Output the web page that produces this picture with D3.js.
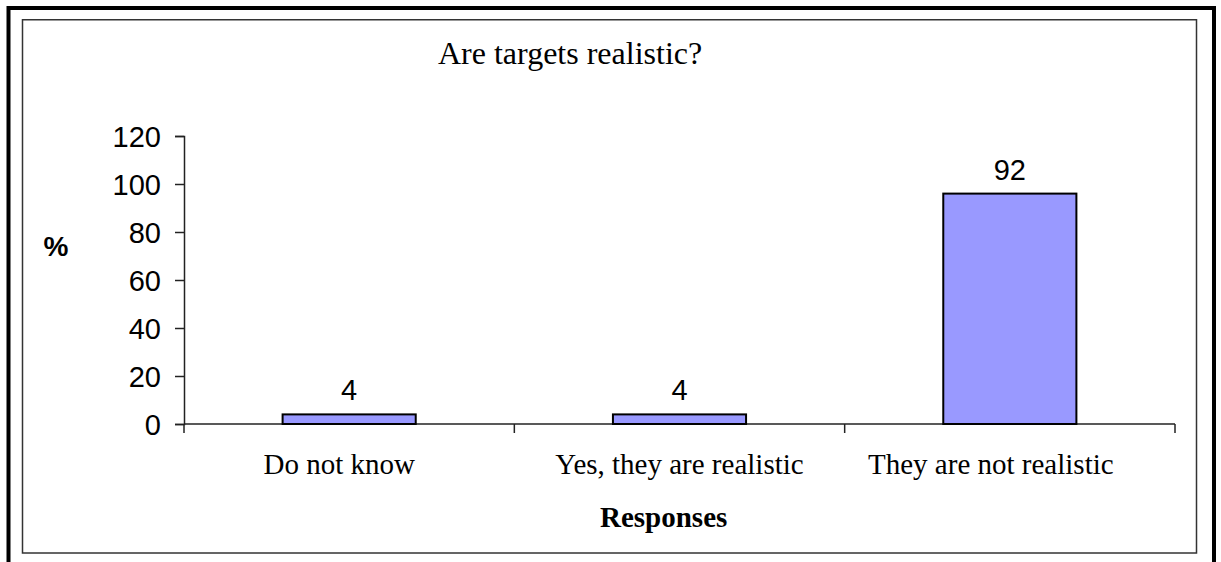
<!DOCTYPE html>
<html>
<head>
<meta charset="utf-8">
<script src="https://cdn.jsdelivr.net/npm/d3@7"></script>
<style>
  html, body { margin: 0; padding: 0; background: #fff; }
  svg { display: block; }
</style>
</head>
<body>
<script>
// ---- data ----
const categories = ["Do not know", "Yes, they are realistic", "They are not realistic"];
const barValues = [4, 4, 96];           // bar heights as drawn in the picture
const barLabels = ["4", "4", "92"];     // data labels as printed
const yTicks = [0, 20, 40, 60, 80, 100, 120];
const chartTitle = "Are targets realistic?";
const xTitle = "Responses";
const yTitle = "%";

const W = 1221, H = 562;
const SERIF = "Liberation Serif, Times New Roman, serif";
const SANS = "Liberation Sans, Arial, sans-serif";
const svg = d3.select("body").append("svg").attr("width", W).attr("height", H);

// outer frame
svg.append("rect").attr("x", 8.5).attr("y", 8).attr("width", 1214 - 8.5).attr("height", 600)
  .attr("fill", "none").attr("stroke", "#000").attr("stroke-width", 4);
// inner frame
svg.append("rect").attr("x", 22.5).attr("y", 19.75).attr("width", 1196.5 - 22.5).attr("height", 553 - 19.75)
  .attr("fill", "none").attr("stroke", "#333").attr("stroke-width", 1.5);

const x = d3.scaleBand().domain(categories).range([184, 1175]).padding(0);
const y = d3.scaleLinear().domain([0, 120]).range([424, 136]);

// title
svg.append("text").attr("x", 438).attr("y", 64).attr("text-anchor", "start")
  .attr("font-family", SERIF).attr("font-size", 32)
  .text(chartTitle);

// y axis
const yAxis = svg.append("g").attr("transform", "translate(184,0)")
  .call(d3.axisLeft(y).tickValues(yTicks).tickSize(9).tickPadding(14).tickFormat(d3.format("d")));
yAxis.select(".domain").attr("stroke", "#222").attr("stroke-width", 1.5);
yAxis.selectAll(".tick line").attr("stroke", "#222").attr("stroke-width", 1.5);
yAxis.selectAll(".tick text").attr("font-family", SANS)
  .attr("font-size", 29).attr("fill", "#000").attr("dy", "0.35em");

// x axis (ticks at category boundaries)
const xAxisG = svg.append("g").attr("transform", "translate(0,424)");
xAxisG.append("line").attr("x1", x.range()[0]).attr("x2", x.range()[1])
  .attr("stroke", "#222").attr("stroke-width", 1.5);
const boundaries = categories.map(c => x(c)).concat([x(categories[categories.length - 1]) + x.bandwidth()]);
xAxisG.selectAll("line.tk").data(boundaries).enter().append("line").attr("class", "tk")
  .attr("x1", d => d).attr("x2", d => d).attr("y1", 0).attr("y2", 9)
  .attr("stroke", "#222").attr("stroke-width", 1.5);

// category labels
const catShift = [-10, 0, -19];
svg.selectAll("text.cat").data(categories).enter().append("text").attr("class", "cat")
  .attr("x", (d, i) => x(d) + x.bandwidth() / 2 + catShift[i]).attr("y", 474).attr("text-anchor", "middle")
  .attr("font-family", SERIF).attr("font-size", 29)
  .text(d => d);

// bars
const barW = x.bandwidth() * 0.403;
svg.selectAll("rect.bar").data(categories).enter().append("rect").attr("class", "bar")
  .attr("x", d => x(d) + x.bandwidth() / 2 - barW / 2)
  .attr("y", (d, i) => y(barValues[i]))
  .attr("width", barW)
  .attr("height", (d, i) => y(0) - y(barValues[i]))
  .attr("fill", "#9999FF").attr("stroke", "#000").attr("stroke-width", 2);

// data labels
svg.selectAll("text.lbl").data(categories).enter().append("text").attr("class", "lbl")
  .attr("x", d => x(d) + x.bandwidth() / 2)
  .attr("y", (d, i) => y(barValues[i]) - 14)
  .attr("text-anchor", "middle")
  .attr("font-family", SANS).attr("font-size", 29)
  .text((d, i) => barLabels[i]);

// axis titles
svg.append("text").attr("x", 600).attr("y", 527).attr("text-anchor", "start")
  .attr("font-family", SERIF).attr("font-size", 29)
  .attr("font-weight", "bold").text(xTitle);
svg.append("text").attr("x", 56).attr("y", 256).attr("text-anchor", "middle")
  .attr("font-family", SANS).attr("font-size", 28)
  .attr("font-weight", "bold").text(yTitle);
</script>
</body>
</html>
